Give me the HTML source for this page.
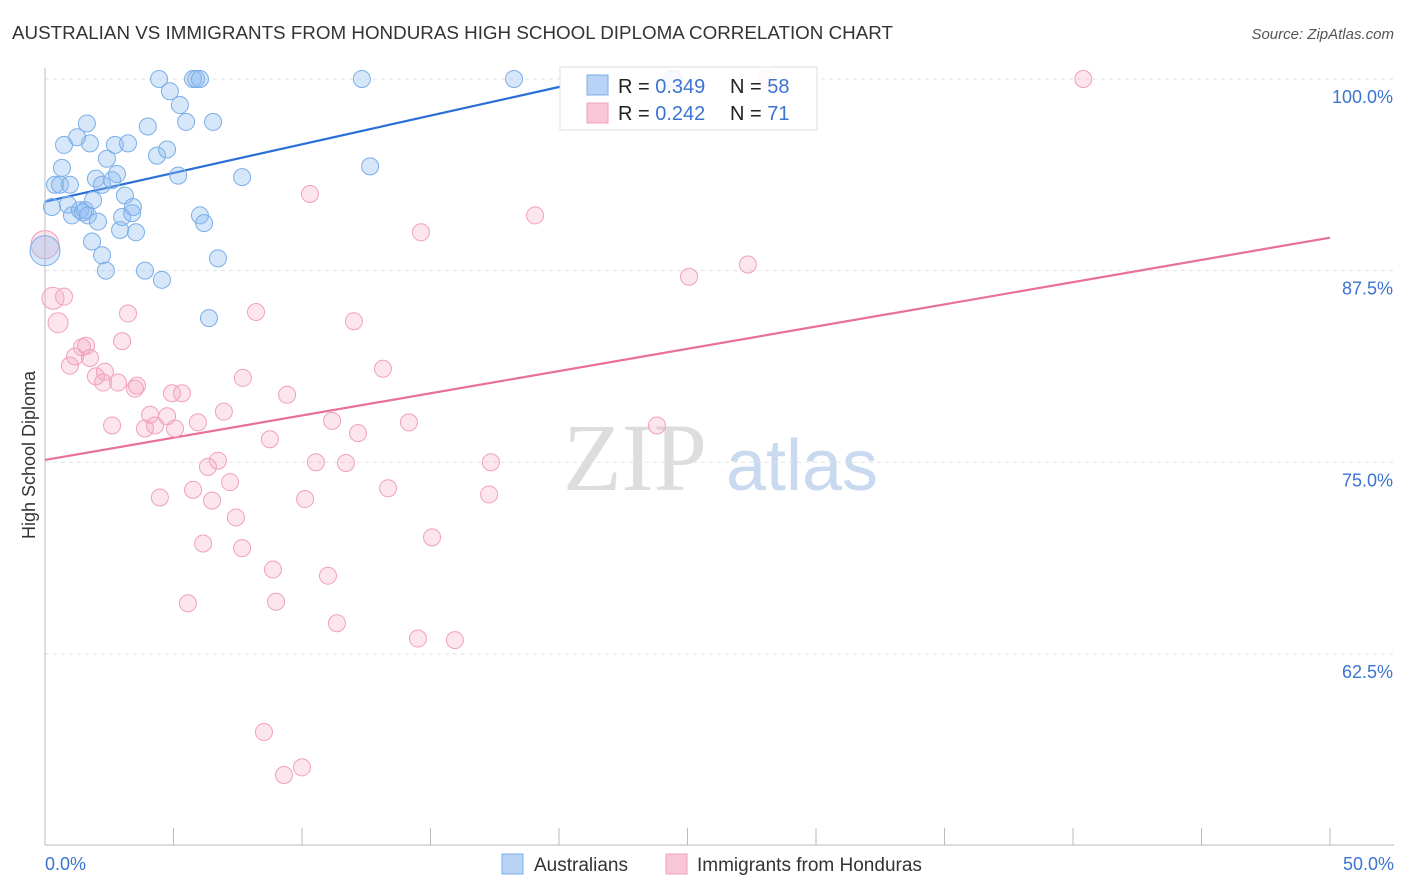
<!DOCTYPE html>
<html><head><meta charset="utf-8">
<style>
body{margin:0;background:#fff;font-family:"Liberation Sans",sans-serif;}
#wrap{position:relative;width:1406px;height:892px;overflow:hidden;}
</style></head>
<body>
<div id="wrap">
<svg id="svg" width="1406" height="892" xmlns="http://www.w3.org/2000/svg">
<text x="12" y="39" font-size="18" fill="#333" textLength="881" lengthAdjust="spacingAndGlyphs">AUSTRALIAN VS IMMIGRANTS FROM HONDURAS HIGH SCHOOL DIPLOMA CORRELATION CHART</text>
<text x="1394" y="39" font-size="15" fill="#555" font-style="italic" text-anchor="end">Source: ZipAtlas.com</text>
<text x="35" y="455" font-size="18" fill="#333" text-anchor="middle" transform="rotate(-90 35 455)">High School Diploma</text>
<g>
<text x="635" y="490" font-size="96" fill="#ddd" font-family="Liberation Serif" text-anchor="middle">ZIP</text>
<text x="802" y="490" font-size="72" fill="#c8d9f0" text-anchor="middle">atlas</text>
</g>
<g id="grid"></g><g id="axes"></g><g id="trend"></g><g id="pts"></g>
<g>
<rect x="560" y="67" width="257" height="63" fill="rgba(255,255,255,0.85)" stroke="#ddd"/>
<rect x="587" y="75" width="21" height="20" fill="#b8d3f5" stroke="#7aaee8"/>
<rect x="587" y="103" width="21" height="20" fill="#f8c6d6" stroke="#f0a0bf"/>
<text x="618" y="93" font-size="20" fill="#222">R = <tspan fill="#3b74d1">0.349</tspan><tspan x="730">N = </tspan><tspan fill="#3b74d1">58</tspan></text>
<text x="618" y="120" font-size="20" fill="#222">R = <tspan fill="#3b74d1">0.242</tspan><tspan x="730">N = </tspan><tspan fill="#3b74d1"> 71</tspan></text>
</g>
<g>
<rect x="502" y="854" width="21" height="20" fill="#b8d3f5" stroke="#7aaee8"/>
<text x="534" y="871" font-size="19" fill="#333">Australians</text>
<rect x="666" y="854" width="21" height="20" fill="#f8c6d6" stroke="#f0a0bf"/>
<text x="697" y="871" font-size="19" fill="#333">Immigrants from Honduras</text>
</g>
<text x="45" y="870" font-size="18" fill="#3b74d1">0.0%</text>
<text x="1394" y="870" font-size="18" fill="#3b74d1" text-anchor="end">50.0%</text>
</svg>
</div>
<script>
const yTicks=[100,87.5,75,62.5];
const yTickLabels=["100.0%","87.5%","75.0%","62.5%"];
const blueX=[0,0.27,0.39,0.58,0.66,0.74,0.89,0.97,1.05,1.25,1.36,1.48,1.56,1.63,1.67,1.75,1.83,1.87,1.98,2.06,2.22,2.22,2.37,2.41,2.61,2.72,2.8,2.92,3.0,3.11,3.23,3.39,3.42,3.54,3.89,4.0,4.36,4.44,4.55,4.75,4.86,5.18,5.25,5.49,5.76,5.88,6.03,6.03,6.19,6.38,6.54,6.73,7.67,12.33,12.65,18.25,24.4];
const blueY=[88.8,91.65,93.1,93.1,94.2,95.7,91.8,93.1,91.1,96.2,91.45,91.3,91.45,97.1,91.1,95.8,89.4,92.1,93.5,90.7,93.1,88.5,87.5,94.8,93.4,95.7,93.8,90.15,91.0,92.4,95.8,91.25,91.65,90.0,87.5,96.9,95.0,100,86.9,95.4,99.2,93.7,98.3,97.2,100,100,100,91.1,90.6,84.4,97.2,88.3,93.6,100,94.3,100,100];
const pinkX=[0,0.31,0.51,0.74,0.97,1.17,1.44,1.6,1.75,1.98,2.26,2.33,2.61,2.84,3.0,3.23,3.5,3.58,3.89,4.09,4.28,4.47,4.75,4.94,5.06,5.33,5.56,5.76,5.95,6.15,6.34,6.5,6.73,6.96,7.2,7.43,7.67,7.7,8.21,8.75,8.87,8.99,8.52,9.42,9.3,10.0,10.12,10.31,10.54,11.01,11.17,11.36,11.71,12.02,12.18,13.15,13.35,14.16,14.51,14.63,15.06,15.95,17.28,17.35,19.07,23.81,25.06,27.35,40.4,28.05,24.5];
const pinkY=[89.2,85.7,84.1,85.8,81.3,81.9,82.5,82.6,81.8,80.6,80.2,80.9,77.4,80.2,82.9,84.7,79.8,80.0,77.2,78.1,77.4,72.7,78.0,79.5,77.2,79.5,65.8,73.2,77.6,69.7,74.7,72.5,75.1,78.3,73.7,71.4,69.4,80.5,84.8,76.5,68.0,65.9,57.4,79.4,54.6,55.1,72.6,92.5,75.0,67.6,77.7,64.5,74.95,84.2,76.9,81.1,73.3,77.6,63.5,90.0,70.1,63.4,72.9,75.0,91.1,77.4,87.1,87.9,100,100,100];
const blueTrend=[92.0,0.374]; const blueTrendEnd=20.04;
const pinkTrend=[75.15,0.29];
const NS="http://www.w3.org/2000/svg";
const xs=v=>45+v*25.7, ys=v=>79+(100-v)*15.33;
function mk(t,a,p){const e=document.createElementNS(NS,t);for(const k in a)e.setAttribute(k,a[k]);p.appendChild(e);return e;}
const grid=document.getElementById('grid'),axes=document.getElementById('axes'),trend=document.getElementById('trend'),pts=document.getElementById('pts');
yTicks.forEach((t,i)=>{
 const l=mk('line',{x1:45,x2:1394,y1:ys(t),y2:ys(t),stroke:'#e2e2e2','stroke-dasharray':'4,4'},grid);
 
 
 const tx=mk('text',{x:1393,y:ys(t)+24,'font-size':18,fill:'#3b74d1','text-anchor':'end'},axes);
 tx.textContent=yTickLabels[i];
 
 
});
mk('line',{x1:45,x2:45,y1:68,y2:845,stroke:'#bbb'},axes);
mk('line',{x1:45,x2:1394,y1:845,y2:845,stroke:'#bbb'},axes);
for(let i=0;i<=10;i++){const t=mk('line',{x1:xs(i*5),x2:xs(i*5),y1:828,y2:845,stroke:'#bbb'},axes);
 
 }
const bl=mk('line',{x1:xs(0),y1:ys(blueTrend[0]),x2:xs(blueTrendEnd),y2:ys(blueTrend[0]+blueTrend[1]*blueTrendEnd),stroke:'#2a6fd6','stroke-width':2.2},trend);


const pl=mk('line',{x1:xs(0),y1:ys(pinkTrend[0]),x2:xs(50),y2:ys(pinkTrend[0]+pinkTrend[1]*50),stroke:'#e8709a','stroke-width':2.2},trend);


pinkX.forEach((x,i)=>{const r=i<2?(i==0?14:11):(i==2?10:8.5);
 const c=mk('circle',{cx:xs(x),cy:ys(pinkY[i]),r:r,fill:'rgba(246,170,196,0.3)',stroke:'#f0a0bf','stroke-width':1},pts);
 
 });
blueX.forEach((x,i)=>{const r=i==0?15:8.5;
 const c=mk('circle',{cx:xs(x),cy:ys(blueY[i]),r:r,fill:'rgba(140,185,240,0.35)',stroke:'#7aaee8','stroke-width':1},pts);
 
 });
</script>
</body></html>
